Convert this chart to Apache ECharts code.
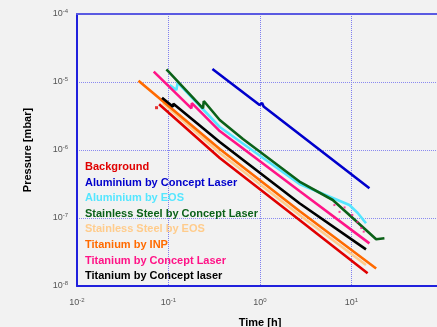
<!DOCTYPE html>
<html>
<head>
<meta charset="utf-8">
<script src="https://cdn.jsdelivr.net/npm/echarts@6/dist/echarts.min.js"></script>
<style>
  html, body { margin: 0; padding: 0; background: #f2f2f2; }
  #main { width: 437px; height: 327px; }
</style>
</head>
<body>
<div id="main"></div>
<script>
// pump-down curves, [time h, pressure mbar]
const background = [[0.079, 4.70e-6], [0.363, 7.63e-7], [2.70, 9.35e-8], [15.0, 1.54e-8]]
const backgroundDot = [[0.074, 4.19e-6]]
const aluCL = [[0.302, 1.55e-5], [0.99, 4.59e-6], [1.054, 4.91e-6], [1.095, 4.36e-6], [15.7, 2.73e-7]]
const aluEOS = [[0.103, 9.03e-6], [0.122, 7.62e-6], [0.126, 9.83e-6], [0.363, 2.18e-6], [2.70, 3.16e-7], [6.24, 1.97e-7], [9.49, 1.55e-7], [11.7, 1.185e-7], [14.4, 8.36e-8]]
const steelCL = [[0.095, 1.53e-5], [0.238, 4.10e-6], [0.243, 5.25e-6], [0.363, 2.76e-6], [0.651, 1.45e-6], [2.70, 3.44e-7], [6.24, 1.84e-7], [14.4, 6.66e-8], [18.6, 4.86e-8], [22.9, 5.03e-8]]
const steelEOS = [[0.087, 4.91e-6], [0.363, 9.03e-7], [2.70, 1.107e-7], [14.4, 2.04e-8]]
const tiINP = [[0.047, 1.045e-5], [0.363, 1.034e-6], [2.70, 1.267e-7], [18.6, 1.81e-8]]
const tiCL = [[0.069, 1.42e-5], [0.178, 4.10e-6], [0.180, 4.9e-6], [0.363, 1.90e-6], [2.70, 2.49e-7], [15.7, 4.24e-8]]
const tiCLNoise = [[6.5, 1.55e-7], [7.4, 1.23e-7], [8.4, 1.43e-7], [10.2, 1.11e-7], [11.6, 8.73e-8], [12.8, 7.13e-8], [13.6, 6.3e-8]]
const tiCl2 = [[0.085, 5.88e-6], [0.112, 4.33e-6], [0.113, 4.8e-6], [0.363, 1.31e-6], [2.70, 1.645e-7], [14.4, 3.46e-8]]

const names = ['Background', 'Aluminium by Concept Laser', 'Aluminium by EOS', 'Stainless Steel by Concept Laser',
  'Stainless Steel by EOS', 'Titanium by INP', 'Titanium by Concept Laser', 'Titanium by Concept laser']
const colors = ['#e00000', '#0000cc', '#55e6ff', '#0b6118', '#ffcc8c', '#ff6a00', '#ff1487', '#000000']
const curves = [background, aluCL, aluEOS, steelCL, steelEOS, tiINP, tiCL, tiCl2]

const font = 'Liberation Sans'
const tickRich = {
  b: { fontSize: 9, color: '#555', fontFamily: font },
  s: { fontSize: 6, color: '#555', fontFamily: font, padding: [0, 0, 6, 0] }
}
function powLabel (v) {
  return '{b|10}{s|' + Math.round(Math.log10(v)) + '}'
}

const series = curves.map(function (d, i) {
  return {
    name: names[i],
    type: 'line',
    data: d,
    showSymbol: false,
    lineStyle: { color: colors[i], width: 2.6 },
    itemStyle: { color: colors[i] },
    z: 2 + i
  }
})
// stray points
series.push({
  name: names[0],
  type: 'scatter',
  data: backgroundDot,
  symbol: 'rect',
  symbolSize: 3,
  itemStyle: { color: colors[0] },
  z: 2
})
series.push({
  name: names[6],
  type: 'scatter',
  data: tiCLNoise,
  symbol: 'rect',
  symbolSize: 2,
  itemStyle: { color: colors[6] },
  z: 8
})

const myChart = echarts.init(document.getElementById('main'))
myChart.setOption({
  backgroundColor: '#f2f2f2',
  animation: false,
  grid: { left: 77, top: 14, width: 366, height: 272, outerBoundsMode: 'none' },
  legend: {
    orient: 'vertical',
    left: 80,
    top: 160,
    padding: 0,
    icon: 'none',
    itemWidth: 0,
    itemHeight: 14,
    itemGap: 1.6,
    selectedMode: false,
    textStyle: { fontFamily: font, fontWeight: 'bold', fontSize: 11, lineHeight: 14 },
    data: names.map(function (n, i) {
      return { name: n, textStyle: { color: colors[i] } }
    })
  },
  xAxis: [{
    type: 'log',
    logBase: 10,
    min: 0.01,
    max: 100,
    position: 'bottom',
    name: 'Time [h]',
    nameLocation: 'middle',
    nameGap: 31,
    nameTextStyle: { fontFamily: font, fontWeight: 'bold', fontSize: 11, color: '#000' },
    axisLine: { onZero: false, lineStyle: { color: '#2020dd', width: 2 } },
    axisTick: { show: false },
    axisLabel: { margin: 11, showMaxLabel: false, formatter: powLabel, rich: tickRich },
    splitLine: { show: true, lineStyle: { color: '#7f7ff0', type: 'dotted', width: 1 } }
  }, {
    type: 'log',
    logBase: 10,
    min: 0.01,
    max: 100,
    position: 'top',
    axisLine: { onZero: false, lineStyle: { color: '#5a5ae2', width: 2 } },
    axisTick: { show: false },
    axisLabel: { show: false },
    splitLine: { show: false }
  }],
  yAxis: {
    type: 'log',
    logBase: 10,
    min: 1e-8,
    max: 1e-4,
    name: 'Pressure [mbar]',
    nameLocation: 'middle',
    nameGap: 44,
    nameTextStyle: { fontFamily: font, fontWeight: 'bold', fontSize: 11, color: '#000' },
    axisLine: { show: true, lineStyle: { color: '#2020dd', width: 2 } },
    axisTick: { show: false },
    axisLabel: { margin: 9, formatter: powLabel, rich: tickRich },
    splitLine: { show: true, lineStyle: { color: '#8a8af0', type: 'dotted', width: 1 } }
  },
  series: series
})
</script>
</body>
</html>
